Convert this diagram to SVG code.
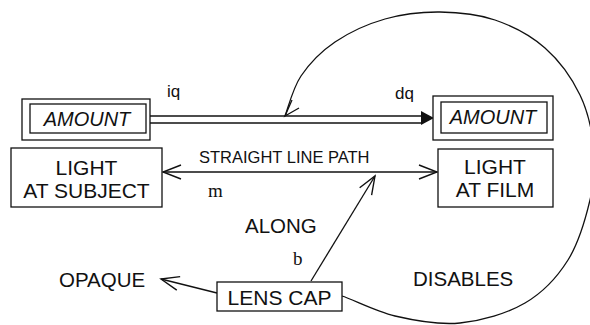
<svg xmlns="http://www.w3.org/2000/svg" width="590" height="325" viewBox="0 0 590 325">
<style>
  .box{fill:#fff;stroke:#111;stroke-width:1.3}
  .ln{fill:none;stroke:#111;stroke-width:1.3}
  .t{font-family:"Liberation Sans",Arial,sans-serif;fill:#111}
  .node{font-size:21px;text-anchor:middle}
  .amt{font-size:20px;font-style:italic;text-anchor:middle}
  .lbl{font-size:20.5px}
  .small{font-size:16.5px}
  .rel{font-family:"Liberation Serif","Times New Roman",serif;font-size:19px;fill:#111}
</style>
<defs>
  <marker id="open" markerUnits="userSpaceOnUse" viewBox="0 0 24 20" markerWidth="24" markerHeight="20" refX="21" refY="10" orient="auto">
    <path d="M3 3 L21 10 L3 17" fill="none" stroke="#111" stroke-width="1.4"/>
  </marker>
  <marker id="openS" markerUnits="userSpaceOnUse" viewBox="0 0 24 20" markerWidth="24" markerHeight="20" refX="21" refY="10" orient="auto-start-reverse">
    <path d="M3 3 L21 10 L3 17" fill="none" stroke="#111" stroke-width="1.4"/>
  </marker>
</defs>
<rect width="590" height="325" fill="#fff"/>

<g id="connectors">
  <!-- double line iq -> dq -->
  <line class="ln" x1="150" y1="116" x2="423" y2="116"/>
  <line class="ln" x1="150" y1="123" x2="423" y2="123"/>
  <path d="M421 111 L434 118 L421 125 Z" fill="#111"/>
  <!-- straight line path -->
  <line class="ln" x1="163" y1="172" x2="437" y2="172" marker-start="url(#openS)" marker-end="url(#openS)"/>
  <!-- along -->
  <line class="ln" x1="311" y1="281" x2="375" y2="176" marker-end="url(#open)"/>
  <!-- opaque -->
  <line class="ln" x1="217" y1="293" x2="161" y2="279" marker-end="url(#open)"/>
  <!-- disables arc -->
  <path class="ln" d="M342 296 C352.5 299.3 375.7 311.3 395 316 C414.3 320.5 438.3 325.2 460 323 C481.7 320.8 507 313.5 525 303 C543 292.5 557.2 277.2 568 260 C578.8 242.8 585.7 218.3 590 200 C594.3 181.7 595.7 167.5 594 150 C592.3 132.5 588.2 112 580 95 C571.8 78 559.2 60.5 545 48 C530.8 35.5 512.5 26 495 20 C477.5 14 458.3 12.2 440 12 C421.7 11.8 402.5 14 385 19 C367.5 24 349 32.5 335 42 C321 51.5 309.3 63.7 301 76 C292.7 88.3 287.7 109.3 285 116"/>
  <path class="ln" d="M299 108 L285 116 L292 100"/>
</g>

<g id="amount-left">
  <rect class="box" x="22" y="99" width="128" height="41"/>
  <rect class="box" x="30" y="104" width="116" height="29"/>
  <text class="t amt" x="87" y="126">AMOUNT</text>
</g>
<g id="amount-right">
  <rect class="box" x="433" y="96" width="120" height="44"/>
  <rect class="box" x="441" y="102" width="106" height="31"/>
  <text class="t amt" x="493" y="124">AMOUNT</text>
</g>
<g id="light-subject">
  <rect class="box" x="11" y="148" width="151" height="59"/>
  <text class="t node" x="86.5" y="175">LIGHT</text>
  <text class="t node" x="86.5" y="198">AT SUBJECT</text>
</g>
<g id="light-film">
  <rect class="box" x="438" y="149" width="115" height="58"/>
  <text class="t node" x="495" y="174">LIGHT</text>
  <text class="t node" x="495" y="197">AT FILM</text>
</g>
<g id="lens-cap">
  <rect class="box" x="217" y="282" width="125" height="29"/>
  <text class="t node" x="279.5" y="305">LENS CAP</text>
</g>
<g id="opaque">
  <text class="t lbl" x="59" y="287">OPAQUE</text>
</g>

<g id="labels">
  <text class="t" x="167" y="97" font-size="17">iq</text>
  <text class="t" x="395" y="99" font-size="17">dq</text>
  <text class="t small" x="199" y="163">STRAIGHT LINE PATH</text>
  <text class="rel" x="208" y="197">m</text>
  <text class="t lbl" x="245" y="233">ALONG</text>
  <text class="rel" x="293" y="265">b</text>
  <text class="t lbl" x="413" y="286">DISABLES</text>
</g>
</svg>
